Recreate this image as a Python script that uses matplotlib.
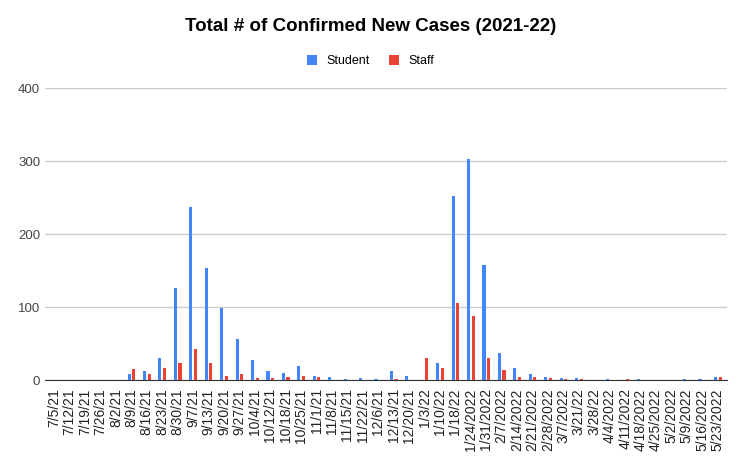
import numpy as np
import matplotlib.pyplot as plt

plt.rcParams['font.family'] = 'Liberation Sans'

weeks = ['7/5/21', '7/12/21', '7/19/21', '7/26/21', '8/2/21', '8/9/21', '8/16/21',
         '8/23/21', '8/30/21', '9/7/21', '9/13/21', '9/20/21', '9/27/21', '10/4/21',
         '10/12/21', '10/18/21', '10/25/21', '11/1/21', '11/8/21', '11/15/21',
         '11/22/21', '12/6/21', '12/13/21', '12/20/21', '1/3/22', '1/10/22', '1/18/22',
         '1/24/2022', '1/31/2022', '2/7/2022', '2/14/2022', '2/21/2022', '2/28/2022',
         '3/7/2022', '3/21/22', '3/28/22', '4/4/2022', '4/11/2022', '4/18/2022',
         '4/25/2022', '5/2/2022', '5/9/2022', '5/16/2022', '5/23/2022']
student = [0, 0, 0, 0, 0, 8, 12, 30, 126, 237, 154, 99, 56, 27, 12, 9, 19, 6, 4, 1,
           3, 2, 13, 5, 0, 23, 252, 303, 158, 37, 16, 8, 4, 3, 3, 0, 1, 0, 1, 0, 0, 1, 1, 4]
staff = [0, 0, 0, 0, 0, 15, 8, 16, 23, 42, 23, 5, 8, 3, 3, 4, 5, 4, 0, 0,
         0, 0, 1, 0, 30, 16, 106, 88, 30, 14, 4, 4, 3, 1, 1, 0, 0, 1, 0, 0, 0, 0, 0, 4]

fig = plt.figure(figsize=(7.41, 4.61), dpi=100)
ax = fig.add_axes([45/741, 1 - 380/461, 682/741, 292/461])

x = np.arange(len(weeks))
w = 0.2
ax.bar(x - 0.15, student, w, color='#4285f4', label='Student', zorder=3)
ax.bar(x + 0.15, staff, w, color='#ea4335', label='Staff', zorder=3)

ax.set_xlim(-0.6, len(weeks) - 0.4)
ax.set_ylim(0, 400)
ax.set_yticks([0, 100, 200, 300, 400])
ax.set_xticks(x)
ax.set_xticklabels(weeks, rotation=90, fontsize=10)
ax.tick_params(axis='y', labelsize=9.5, length=0, colors='#444444')
ax.tick_params(axis='x', length=0, pad=6, colors='#222222')
ax.grid(axis='y', color='#cccccc', linewidth=1, zorder=0)
for s in ['top', 'right', 'left']:
    ax.spines[s].set_visible(False)
ax.spines['bottom'].set_color('#333333')

fig.suptitle('Total # of Confirmed New Cases (2021-22)', y=0.96, fontsize=13.5, fontweight='bold')
fig.legend(loc='upper center', bbox_to_anchor=(0.5, 0.905), ncol=2, frameon=False,
           fontsize=9, handlelength=0.8, handleheight=0.8, columnspacing=1.5)

fig.savefig('out.png')
